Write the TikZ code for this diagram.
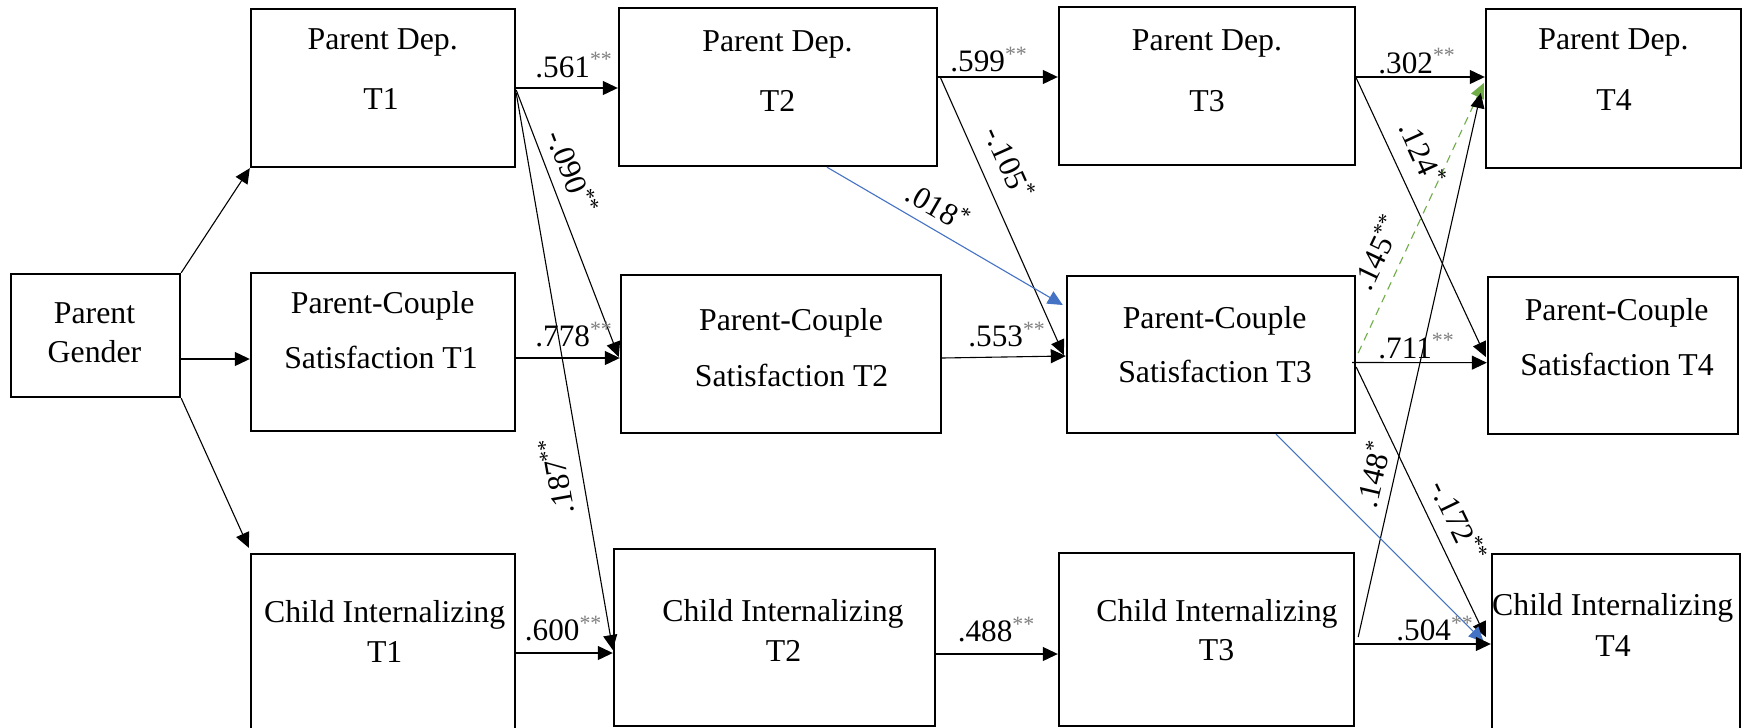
\documentclass[tikz,border=0pt]{standalone}
\usepackage{fontspec}
\setmainfont{Liberation Serif}
\usetikzlibrary{arrows.meta,calc}
\definecolor{pathblue}{RGB}{68,114,196}
\definecolor{pathgreen}{RGB}{112,173,71}
\newcommand\gsup[1]{\textsuperscript{\textcolor{gray}{#1}}}
\newcommand\bsup[1]{\textsuperscript{#1}}
\tikzset{
  box/.style={draw, line width=1.2pt, inner sep=0pt, fill=white},
  txt/.style={inner sep=0pt, anchor=base, font=\fontsize{15.9}{19}\selectfont},
  lab/.style={inner sep=0pt, font=\fontsize{15.6}{19}\selectfont},
  hlab/.style={lab, anchor=base west},
  conn/.style={line width=0.55pt, -{Triangle[length=7.5pt,width=7pt]}},
  blueconn/.style={conn, draw=pathblue, -{Triangle[length=7.5pt,width=7pt,fill=pathblue]}},
  greenconn/.style={conn, draw=pathgreen, dash pattern=on 4pt off 3pt, -{Triangle[length=7.5pt,width=7pt,fill=pathgreen]}}
}
\begin{document}
\begin{tikzpicture}[x=0.5pt,y=-0.5pt]
\useasboundingbox (0,0) rectangle (1747,728);
\fill[white] (0,0) rectangle (1747,728);
\clip (0,0) rectangle (1747,728);
% boxes
\node[box, minimum width=84.5pt, minimum height=61.5pt] (pg) at (95.5,335.5) {};
\node[box, minimum width=132pt, minimum height=79pt] (pd1) at (383,88) {};
\node[box, minimum width=132pt, minimum height=79pt] (pcs1) at (383,352) {};
\node[box, minimum width=132pt, minimum height=89pt] (ci1) at (383,643) {};
\node[box, minimum width=159pt, minimum height=79pt] (pd2) at (778,87) {};
\node[box, minimum width=160pt, minimum height=79pt] (pcs2) at (781,354) {};
\node[box, minimum width=160.5pt, minimum height=88.5pt] (ci2) at (774.5,637.5) {};
\node[box, minimum width=148pt, minimum height=79pt] (pd3) at (1207,86) {};
\node[box, minimum width=144pt, minimum height=78.5pt] (pcs3) at (1211,354.5) {};
\node[box, minimum width=147.5pt, minimum height=86.5pt] (ci3) at (1206.5,639.5) {};
\node[box, minimum width=127.5pt, minimum height=79.5pt] (pd4) at (1613.5,88.5) {};
\node[box, minimum width=125pt, minimum height=78.5pt] (pcs4) at (1613,355.5) {};
\node[box, minimum width=124pt, minimum height=89pt] (ci4) at (1616,643) {};
% box texts
\node[txt] (pga) at (94.5,323.3) {Parent};
\node[txt] (pgb) at (94.5,362.7) {Gender};
\node[txt] (pd1a) at (382.7,49.3) {Parent Dep.};
\node[txt] (pd1b) at (381,109.3) {T1};
\node[txt] (pcs1a) at (382.7,313.3) {Parent-Couple};
\node[txt] (pcs1b) at (381,368.3) {Satisfaction T1};
\node[txt] (ci1a) at (384.6,622.7) {Child Internalizing};
\node[txt] (ci1b) at (384.7,662.7) {T1};
\node[txt] (pd2a) at (777.4,51.7) {Parent Dep.};
\node[txt] (pd2b) at (777.5,111.7) {T2};
\node[txt] (pcs2a) at (791,330) {Parent-Couple};
\node[txt] (pcs2b) at (791.6,386) {Satisfaction T2};
\node[txt] (ci2a) at (783,621.7) {Child Internalizing};
\node[txt] (ci2b) at (783.6,661.7) {T2};
\node[txt] (pd3a) at (1207,50.7) {Parent Dep.};
\node[txt] (pd3b) at (1207,111) {T3};
\node[txt] (pcs3a) at (1214.6,328.3) {Parent-Couple};
\node[txt] (pcs3b) at (1215,382.7) {Satisfaction T3};
\node[txt] (ci3a) at (1217,621.7) {Child Internalizing};
\node[txt] (ci3b) at (1216.6,660) {T3};
\node[txt] (pd4a) at (1613.4,49.3) {Parent Dep.};
\node[txt] (pd4b) at (1614,110) {T4};
\node[txt] (pcs4a) at (1616.6,320) {Parent-Couple};
\node[txt] (pcs4b) at (1617,375) {Satisfaction T4};
\node[txt] (ci4a) at (1612.7,615) {Child Internalizing};
\node[txt] (ci4b) at (1613,656) {T4};
% connectors
\draw[conn] (pg.north east) -- (pd1.south west);
\draw[conn] ([yshift=-11.75pt]pg.east) -- ([yshift=-3.5pt]pcs1.west);
\draw[conn] (pg.south east) -- ([xshift=-0.5pt,yshift=2.5pt]ci1.north west);
\draw[conn] (pd1.east) -- ([yshift=-0.5pt]pd2.west);
\draw[conn] ([yshift=-1pt]pd1.east) -- ([xshift=-0.5pt,yshift=-1.5pt]pcs2.west);
\draw[conn] ([yshift=-2.5pt]pd1.east) -- ([yshift=-6.25pt]ci2.west);
\draw[conn] ([yshift=-3pt]pcs1.east) -- ([yshift=-2pt]pcs2.west);
\draw[conn] ([yshift=-5pt]ci1.east) -- ([yshift=-7.75pt]ci2.west);
\draw[conn] ([yshift=5pt]pd2.east) -- ([yshift=4.5pt]pd3.west);
\draw[conn] ([xshift=1pt,yshift=5pt]pd2.east) -- ([xshift=-1pt,yshift=-0.25pt]pcs3.west);
\draw[blueconn] ([xshift=24.5pt]pd2.south) -- ([xshift=-1.5pt,yshift=24.75pt]pcs3.west);
\draw[conn] ([yshift=-2pt]pcs2.east) -- ([yshift=-0.75pt]pcs3.west);
\draw[conn] ([yshift=-8.25pt]ci2.east) -- ([yshift=-7.25pt]ci3.west);
\draw[conn] ([yshift=4.5pt]pd3.east) -- ([yshift=5.75pt]pd4.west);
\draw[conn] ([yshift=4pt]pd3.east) -- ([xshift=-0.5pt,yshift=-0.75pt]pcs4.west);
\draw[greenconn] ([xshift=1pt,yshift=0.75pt]pcs3.east) -- ([xshift=-0.5pt,yshift=2.75pt]pd4.west);
\draw[conn] ([xshift=-2pt,yshift=-4pt]pcs3.east) -- ([yshift=-3.6pt]pcs4.west);
\draw[conn] ([xshift=1.5pt,yshift=1.25pt]ci3.east) -- ([xshift=-2pt,yshift=-2.25pt]pd4.west);
\draw[conn] ([yshift=-6.25pt]pcs3.east) -- ([xshift=-2.5pt,yshift=3pt]ci4.west);
\draw[blueconn] ([xshift=32.5pt]pcs3.south) -- ([xshift=-3.5pt,yshift=0.5pt]ci4.west);
\draw[conn] ([yshift=-2.25pt]ci3.east) -- ([yshift=-0.5pt]ci4.west);
% horizontal labels
\node[hlab] (l561) at (535,77.3) {.561\gsup{**}};
\node[hlab] (l778) at (535,346.7) {.778\gsup{**}};
\node[hlab] (l599) at (950,71.7) {.599\gsup{**}};
\node[hlab] (l553) at (968,346.7) {.553\gsup{**}};
\node[hlab] (l302) at (1378,73.3) {.302\gsup{**}};
\node[hlab] (l711) at (1378,358.3) {.711\gsup{**}};
\node[hlab] (l600) at (524.5,640.7) {.600\gsup{**}};
\node[hlab] (l488) at (957.4,641.7) {.488\gsup{**}};
\node[hlab] (l504) at (1396,640.7) {.504\gsup{**}};
% sloped labels
\node[lab, rotate=-69] (l090) at (573,172) {-.090\bsup{**}};
\node[lab, rotate=100] (l187) at (556,476) {.187\bsup{**}};
\node[lab, rotate=-65.8] (l105) at (1010,162.5) {-.105\bsup{*}};
\node[lab, rotate=-30] (l018) at (938.5,206) {.018\bsup{*}};
\node[lab, rotate=-65.6] (l124) at (1423,153) {.124\bsup{*}};
\node[lab, rotate=64.6] (l145) at (1376.5,252) {.145\bsup{**}};
\node[lab, rotate=76.8] (l148) at (1372,474) {.148\bsup{*}};
\node[lab, rotate=-64.2] (l172) at (1459.4,521) {-.172\bsup{**}};
\end{tikzpicture}
\end{document}
